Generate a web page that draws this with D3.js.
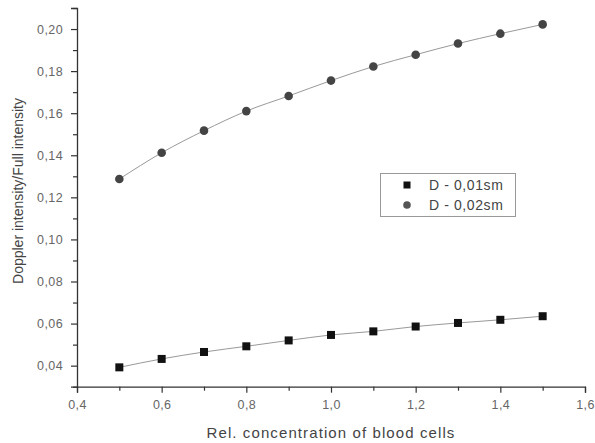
<!DOCTYPE html>
<html>
<head>
<meta charset="utf-8">
<script src="https://cdn.jsdelivr.net/npm/d3@7"></script>
<style>
  html, body { margin: 0; padding: 0; background: #fff; }
  svg { display: block; font-family: "Liberation Sans", Arial, sans-serif; }
</style>
</head>
<body>
<svg id="chart" width="595" height="443"></svg>
<script>
// Relative concentration of blood cells
const concentration = [0.5, 0.6, 0.7, 0.8, 0.9, 1.0, 1.1, 1.2, 1.3, 1.4, 1.5];
// Doppler intensity / full intensity, D = 0.01 sm
const seriesD001 = [0.0392, 0.0432, 0.0465, 0.0492, 0.0520, 0.0546, 0.0563, 0.0586, 0.0603, 0.0618, 0.0635];
// Doppler intensity / full intensity, D = 0.02 sm
const seriesD002 = [0.1287, 0.1412, 0.1517, 0.1610, 0.1682, 0.1755, 0.1822, 0.1878, 0.1931, 0.1978, 0.2022];
const seriesNames = ["D - 0,01sm", "D - 0,02sm"];

const xTicks = [0.4, 0.6, 0.8, 1.0, 1.2, 1.4, 1.6];
const yTicks = [0.04, 0.06, 0.08, 0.10, 0.12, 0.14, 0.16, 0.18, 0.20];
const xMinorTicks = d3.range(0.5, 1.6, 0.2).map(v => +v.toFixed(2));
const yMinorTicks = d3.range(0.03, 0.215, 0.02).map(v => +v.toFixed(3));

const svg = d3.select("#chart");
const plot = { left: 77, right: 585, top: 8, bottom: 386.7 };

const x = d3.scaleLinear().domain([0.4, 1.6]).range([plot.left, plot.right]);
const y = d3.scaleLinear().domain([0.03, 0.21]).range([plot.bottom, plot.top]);

const comma = (d, n) => d.toFixed(n).replace(".", ",");

// Axes
const xAxis = d3.axisBottom(x).tickValues(xTicks).tickSize(6).tickPadding(7)
  .tickFormat(d => comma(d, 1));
const yAxis = d3.axisLeft(y).tickValues(yTicks).tickSize(6).tickPadding(8)
  .tickFormat(d => comma(d, 2));

svg.append("g").attr("transform", `translate(0,${plot.bottom})`).call(xAxis);
svg.append("g").attr("transform", `translate(${plot.left},0)`).call(yAxis);

// Minor ticks
svg.append("g").attr("transform", `translate(0,${plot.bottom})`)
  .call(d3.axisBottom(x).tickValues(xMinorTicks).tickSize(4).tickFormat(""))
  .select(".domain").remove();
svg.append("g").attr("transform", `translate(${plot.left},0)`)
  .call(d3.axisLeft(y).tickValues(yMinorTicks).tickSize(4).tickFormat(""))
  .select(".domain").remove();

svg.selectAll(".domain").attr("stroke", "#333").attr("stroke-width", 1.3);
svg.selectAll(".tick line").attr("stroke", "#333").attr("stroke-width", 1.2);
svg.selectAll(".tick text").attr("fill", "#666").attr("font-size", 12.5)
  .attr("letter-spacing", 0.4)
  .attr("font-family", "Liberation Sans, Arial, sans-serif");

// Axis titles
svg.append("text")
  .attr("x", (plot.left + plot.right) / 2).attr("y", 438)
  .attr("text-anchor", "middle").attr("font-size", 15).attr("fill", "#444")
  .attr("letter-spacing", 1.1)
  .text("Rel. concentration of blood cells");
svg.append("text")
  .attr("transform", `translate(23,191) rotate(-90)`)
  .attr("text-anchor", "middle").attr("font-size", 14).attr("fill", "#444")
  .text("Doppler intensity/Full intensity");

// Connecting lines
const line = d3.line().x(d => x(d[0])).y(d => y(d[1])).curve(d3.curveMonotoneX);
[seriesD001, seriesD002].forEach(vals => {
  svg.append("path")
    .datum(concentration.map((c, i) => [c, vals[i]]))
    .attr("fill", "none").attr("stroke", "#999").attr("stroke-width", 1)
    .attr("d", line);
});

// Markers
const sq = 8;
svg.append("g").selectAll("rect")
  .data(concentration.map((c, i) => [c, seriesD001[i]]))
  .join("rect")
  .attr("x", d => x(d[0]) - sq / 2).attr("y", d => y(d[1]) - sq / 2)
  .attr("width", sq).attr("height", sq).attr("fill", "#111");
svg.append("g").selectAll("circle")
  .data(concentration.map((c, i) => [c, seriesD002[i]]))
  .join("circle")
  .attr("cx", d => x(d[0])).attr("cy", d => y(d[1])).attr("r", 4.3)
  .attr("fill", "#444");

// Legend
const lg = svg.append("g");
lg.append("rect").attr("x", 380.5).attr("y", 173.5).attr("width", 135).attr("height", 43)
  .attr("fill", "#fff").attr("stroke", "#999").attr("stroke-width", 1);
lg.append("rect").attr("x", 403.5).attr("y", 181.5).attr("width", 7).attr("height", 7).attr("fill", "#111");
lg.append("circle").attr("cx", 407).attr("cy", 205).attr("r", 3.8).attr("fill", "#555");
lg.selectAll("text.leg").data(seriesNames).join("text")
  .attr("class", "leg")
  .attr("x", 429).attr("y", (d, i) => 190 + i * 20)
  .attr("font-size", 14).attr("fill", "#444").attr("letter-spacing", 0.6)
  .text(d => d);
</script>
</body>
</html>
